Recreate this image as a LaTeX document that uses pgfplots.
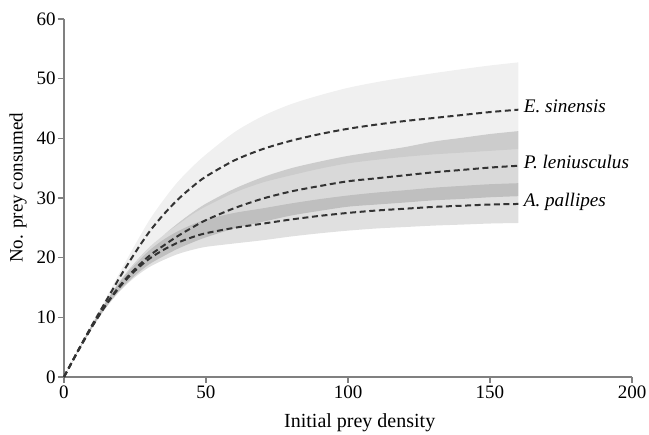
\documentclass[border=0pt]{standalone}
\usepackage{fontspec}
\setmainfont{Liberation Serif}
\usepackage{pgfplots}
\usepackage{pgfplotstable}
\pgfplotsset{compat=1.18}
\usepgfplotslibrary{fillbetween}

\definecolor{axgray}{gray}{0.5}
\definecolor{linegray}{gray}{0.2}

% x  fitted-line  upper  lower
\pgfplotstableread{
x    m     up     lo
0    0     0      0
5    4.5   4.59   4.40
10   8.8   9.06   8.50
15   12.9  13.42  12.35
20   17.0  17.85  16.00
25   20.8  22.15  19.10
30   24.3  26.24  21.70
35   27.2  29.65  23.80
40   29.7  32.67  25.50
45   31.8  35.14  27.20
50   33.6  37.30  28.60
60   36.3  41.02  30.90
70   38.2  43.74  32.60
80   39.6  45.74  33.80
90   40.7  47.21  34.90
100  41.6  48.46  35.80
110  42.3  49.41  36.40
120  42.9  50.19  36.90
130  43.4  50.91  37.30
140  43.9  51.58  37.60
150  44.4  52.21  37.90
160  44.8  52.73  38.20
}\Esin

\pgfplotstableread{
x    m     up     lo
0    0     0      0
5    4.4   4.49   4.31
10   8.6   8.86   8.34
15   12.3  12.79  11.81
20   15.5  16.28  14.73
25   18.1  19.19  17.01
30   20.3  21.72  18.88
35   22.0  23.76  20.24
40   23.6  25.72  21.48
45   25.0  27.50  22.50
50   26.3  29.06  23.41
60   28.3  31.55  24.90
70   29.9  33.49  26.01
80   31.1  34.99  27.06
90   32.0  36.10  27.84
100  32.8  37.06  28.54
110  33.3  37.80  28.90
120  33.8  38.53  29.24
130  34.3  39.45  29.60
140  34.7  40.08  29.84
150  35.1  40.72  30.12
160  35.4  41.21  30.30
}\Plen

\pgfplotstableread{
x    m     up     lo
0    0     0      0
5    4.4   4.49   4.31
10   8.5   8.76   8.25
15   12.2  12.69  11.71
20   15.3  16.07  14.54
25   17.8  18.87  16.73
30   19.8  21.19  18.41
35   21.3  23.00  19.60
40   22.5  24.41  20.59
45   23.4  25.51  21.29
50   24.1  26.39  21.81
60   25.0  27.50  22.38
70   25.7  28.27  22.92
80   26.4  29.09  23.55
90   27.0  29.81  24.08
100  27.5  30.42  24.53
110  27.9  30.91  24.89
120  28.2  31.30  25.13
130  28.5  31.72  25.37
140  28.7  32.03  25.54
150  28.9  32.31  25.72
160  29.0  32.48  25.81
}\Apal

\begin{document}
\begin{tikzpicture}
\begin{axis}[
  scale only axis,
  width=284pt, height=179pt,
  xmin=0, xmax=200, ymin=0, ymax=60,
  axis lines=left,
  axis line style={-, draw=axgray, line width=0.6pt},
  xtick={0,50,100,150,200},
  ytick={0,10,20,30,40,50,60},
  tick style={draw=axgray, line width=0.6pt},
  tick align=outside,
  major tick length=3pt,
  /pgf/number format/assume math mode=true,
  ticklabel style={font=\fontsize{9.5}{11}\selectfont, inner sep=1pt},
  xlabel={Initial prey density},
  ylabel={No. prey consumed},
  xlabel style={font=\fontsize{10}{12}\selectfont, at={(axis description cs:0.5206,-0.127)}, anchor=center},
  ylabel style={font=\fontsize{9.5}{11}\selectfont, at={(axis description cs:-0.081,0.528)}, anchor=center},
  clip=false,
]
\coordinate (bl) at (rel axis cs:0,0);
\coordinate (tr) at (rel axis cs:1,1);

% confidence bands
\addplot[draw=none, name path=Eu, smooth] table[x=x, y=up] {\Esin};
\addplot[draw=none, name path=El, smooth] table[x=x, y=lo] {\Esin};
\addplot[fill=black, fill opacity=0.06, draw=none] fill between[of=Eu and El];

\addplot[draw=none, name path=Pu, smooth] table[x=x, y=up] {\Plen};
\addplot[draw=none, name path=Pl, smooth] table[x=x, y=lo] {\Plen};
\addplot[fill=black, fill opacity=0.15, draw=none] fill between[of=Pu and Pl];

\addplot[draw=none, name path=Au, smooth] table[x=x, y=up] {\Apal};
\addplot[draw=none, name path=Al, smooth] table[x=x, y=lo] {\Apal};
\addplot[fill=black, fill opacity=0.12, draw=none] fill between[of=Au and Al];

% fitted curves
\addplot[linegray, line width=1pt, dash pattern=on 3pt off 1.8pt, smooth] table[x=x, y=m] {\Esin};
\addplot[linegray, line width=1pt, dash pattern=on 3pt off 1.8pt, smooth] table[x=x, y=m] {\Plen};
\addplot[linegray, line width=1pt, dash pattern=on 3pt off 1.8pt, smooth] table[x=x, y=m] {\Apal};

\node[anchor=base west, inner sep=0pt, xshift=2.5pt, yshift=-1.4pt, font=\fontsize{9.6}{11}\selectfont\itshape] at (axis cs:160,44.8) {E. sinensis};
\node[anchor=base west, inner sep=0pt, xshift=2.5pt, yshift=-1.2pt, font=\fontsize{9.6}{11}\selectfont\itshape] at (axis cs:160,35.4) {P. leniusculus};
\node[anchor=base west, inner sep=0pt, xshift=2.5pt, yshift=-1.4pt, font=\fontsize{9.6}{11}\selectfont\itshape] at (axis cs:160,29.0) {A. pallipes};
\end{axis}
\pgfresetboundingbox
\useasboundingbox ([shift={(-32pt,-29pt)}]bl) rectangle ([shift={(8.5pt,9.5pt)}]tr);
\end{tikzpicture}
\end{document}
